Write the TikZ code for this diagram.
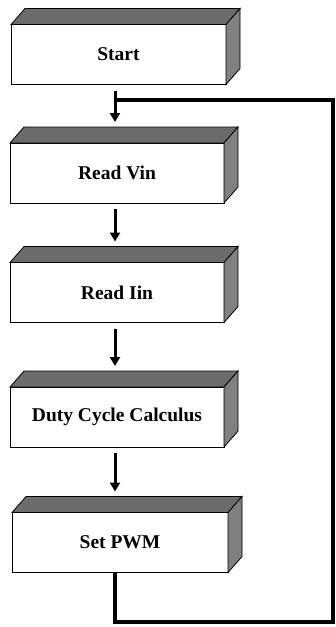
\documentclass[tikz,border=0pt]{standalone}
\usepackage{fontspec}
\setmainfont{Liberation Serif}
\usetikzlibrary{arrows.meta,calc}
\definecolor{topgray}{RGB}{108,108,108}
\definecolor{sidegray}{RGB}{128,128,128}
\newcommand\boxfaces[1]{%
  \draw[face, fill=topgray] (#1.north west) -- ++(14,-16) -- ($(#1.north east)+(14,-16)$) -- (#1.north east) -- cycle;
  \draw[face, fill=sidegray] (#1.north east) -- ++(14,-16) -- ($(#1.south east)+(14,-16)$) -- (#1.south east) -- cycle;}
\begin{document}
\begin{tikzpicture}[x=1pt,y=-1pt,
  stepbox/.style={draw=black, line width=0.8pt, fill=white, minimum width=214pt, minimum height=60pt, inner sep=0pt, outer sep=0pt, font=\bfseries\fontsize{19.5}{22}\selectfont},
  face/.style={draw=black, line width=0.8pt, line join=miter},
  arr/.style={line width=3pt, -{Triangle[width=10pt,length=9pt]}, shorten <=6pt, shorten >=5pt},
  fb/.style={line width=4pt, line join=miter}]
\useasboundingbox (0,0) rectangle (335,627);
\node[stepbox, minimum width=215pt] (start) at (118.5,54.5) {Start};
\node[stepbox] (vin) at (117,173) {Read Vin};
\node[stepbox] (iin) at (117,292.5) {Read Iin};
\node[stepbox] (duty) at (117,417) {Duty Cycle Calculus};
\node[stepbox, minimum width=216pt] (pwm) at (120,542.5) {Set PWM};
\foreach \n in {start,vin,iin,duty,pwm} {\boxfaces{\n}}
\coordinate (ax) at (115,0);
\coordinate (tr) at (333,100);
\coordinate (br) at (333,622);
\draw[arr] (start.south -| ax) -- ($(vin.north -| ax)+(0,-16)$);
\draw[arr] (vin.south -| ax) -- ($(iin.north -| ax)+(0,-16)$);
\draw[arr] (iin.south -| ax) -- ($(duty.north -| ax)+(0,-16)$);
\draw[arr] (duty.south -| ax) -- ($(pwm.north -| ax)+(0,-16)$);
\draw[fb] (pwm.south -| ax) |- (br) -- (tr) -- (tr -| ax);
\end{tikzpicture}
\end{document}
